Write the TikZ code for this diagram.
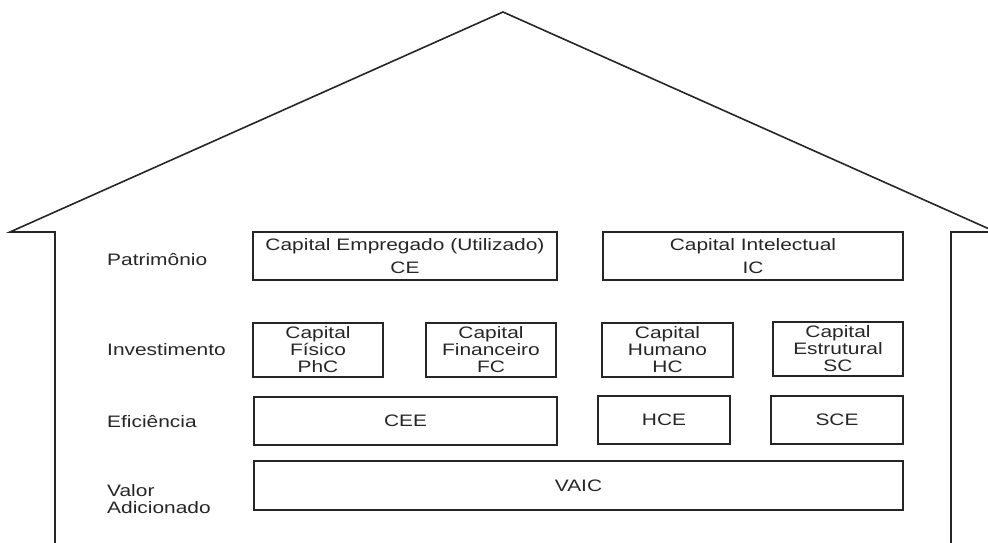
\documentclass[tikz,border=0pt]{standalone}
\usepackage{fontspec}
\setmainfont[FakeStretch=1.26]{Liberation Sans}
\definecolor{ink}{HTML}{262626}
\begin{document}
\begin{tikzpicture}[x=1pt,y=-1pt,
  box/.style={draw=ink, line width=1.5pt, rectangle, inner sep=0pt, align=center,
    font=\fontsize{16.6}{17}\selectfont, text=ink},
  lab/.style={anchor=west, inner sep=0pt, align=left, font=\fontsize{16.6}{17}\selectfont, text=ink}]
\useasboundingbox (0,0) rectangle (988,543);
\clip (0,0) rectangle (988,543);
% house outline
\draw[ink, line width=1.6pt, line join=miter] (55,560) -- (55,232) -- (10,232) -- (503,12) -- (996,232) -- (951,232) -- (951,560);
% row labels
\node[lab] (patr) at (107,260) {Patrimônio};
\node[lab] (inv) at (107,350) {Investimento};
\node[lab] (efi) at (107,422) {Eficiência};
\node[lab] (val) at (107,499) {Valor\\Adicionado};
% boxes
\node[box, minimum width=304, minimum height=48] (ce) at (405,256) {Capital Empregado (Utilizado)\\[6pt]CE};
\node[box, minimum width=300, minimum height=48] (ic) at (753,256) {Capital Intelectual\\[6pt]IC};
\node[box, minimum width=130, minimum height=54] (phc) at (318,350) {Capital\\Físico\\PhC};
\node[box, minimum width=130, minimum height=54] (fc) at (491,350) {Capital\\Financeiro\\FC};
\node[box, minimum width=131, minimum height=54] (hc) at (667.5,350) {Capital\\Humano\\HC};
\node[box, minimum width=130, minimum height=54] (sc) at (838,349) {Capital\\Estrutural\\SC};
\node[box, minimum width=303, minimum height=48] (cee) at (405.5,421) {CEE};
\node[box, minimum width=132, minimum height=48] (hce) at (664,420) {HCE};
\node[box, minimum width=132, minimum height=48] (sce) at (837,420) {SCE};
\node[box, minimum width=649, minimum height=49] (vaic) at (578.5,485.5) {VAIC};
\end{tikzpicture}
\end{document}
